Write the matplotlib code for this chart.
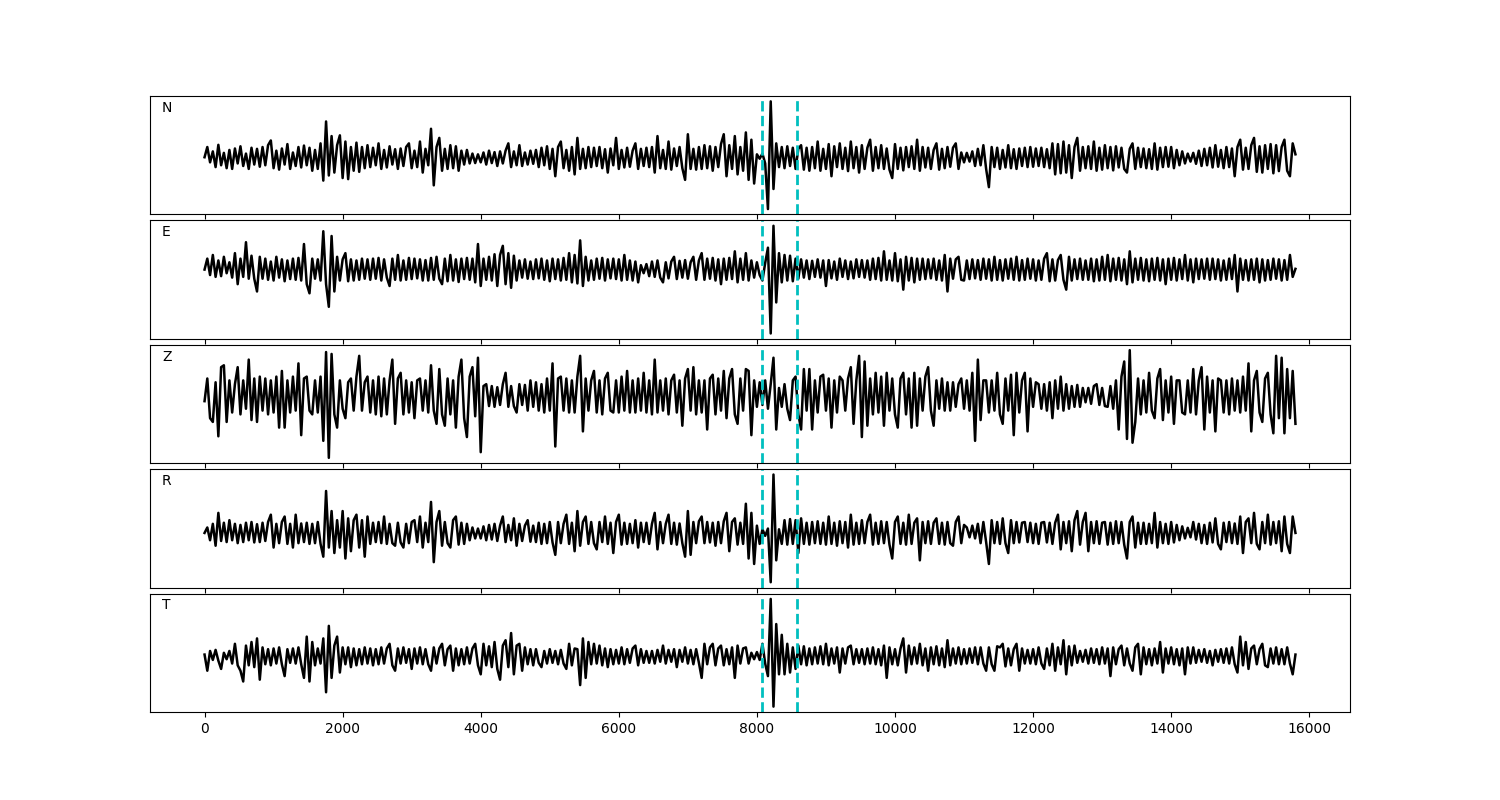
import numpy as np
from matplotlib import pyplot as plt

# Traces, one value every ~40 samples (relative amplitude).
COMPONENTS = ["N", "E", "Z", "R", "T"]
PICKS = [8070, 8575]
TRACE_END = 15800

n_trace = [
    2, 30, -12, 18, -25, 36, -20, 14, -28, 22, -30, 26, -15, 32, -22, 12, -30, 28, -18, 25,
    -24, 30, -20, 35, 48, -28, 20, -32, 26, -18, 38, -30, 15, -22, 30, -26, 34, -20, 28, -35,
    22, -30, 40, -62, 100, -48, 60, -40, 35, 62, -55, 45, -58, 30, -35, 42, -38, 30, -28, 35,
    -25, 28, -20, 40, -30, 22, -26, 32, -18, 24, -30, 26, -22, 30, 40, -28, 20, -25, 45, -40,
    25, -20, 80, -75, 30, 55, -35, 25, -30, 35, -28, 32, -35, 20, -18, 22, -15, 12, -14, 10,
    -12, 15, -18, 20, -14, 16, -22, 18, -15, 20, 40, -25, 18, -20, 35, -22, 15, -18, 20, -16,
    22, -25, 28, -20, 32, -30, 25, -50, 30, 45, -28, 22, -35, 30, -45, 55, -30, 25, -28, 30,
    -25, 28, -22, 30, -28, 24, -40, 26, -20, 55, -30, 22, -26, 28, -24, 20, 40, -30, 25, -22,
    28, -25, 30, -40, 60, -28, 22, -30, 45, -32, 26, -22, 30, -28, -60, 65, -30, 25, -32, 30,
    -30, 35, -28, 32, -35, 30, -25, 38, 65, -50, 35, -30, 60, -45, 30, -35, 70, -60, 50, -70,
    10, -2, 12, -15, -140, 155, -85, 40, -25, 30, -28, 32, -22, 28, -30, 25, 35, -32, 28, -35,
    30, -28, 45, -35, 25, -30, 38, -50, 32, -25, 40, -30, 28, -36, 45, -28, 30, -40, 35, -30,
    28, 50, -35, 30, -28, 35, -30, 26, -32, -55, 38, -30, 28, -34, 30, -25, 32, -30, 50, -35,
    30, -26, 28, -30, 22, 40, -32, 25, -28, 30, -24, 28, 40, -30, 15, -12, 14, -10, 18, -22,
    25, -20, 35, -30, -80, 30, -25, 28, -30, 22, -26, 35, -28, 24, -30, 26, -22, 28, -25, 30,
    -24, 26, -22, 28, -25, 24, -28, 40, -45, 38, -42, 45, -40, 35, -55, 30, 55, -35, 30, -28,
    32, -30, 45, -35, 28, -32, 35, -28, 30, -34, 32, -26, 28, -30, -40, 25, 40, -30, 28, -25,
    26, -28, 24, -30, 40, -32, 28, -25, 30, -24, 30, -28, 22, -20, 18, -15, 12, -10, 14, -16,
    20, -22, 25, -20, 28, -26, 35, -24, 22, -28, 30, -25, 26, -50, 30, 50, -32, 28, -30, 35,
    55, -38, 32, -40, 35, -30, 38, -42, 35, -36, 30, 50, -35, -50, 40, 10,
]

e_trace = [
    0, 30, -15, 40, -20, 25, -18, 35, -10, 20, -22, 45, -40, 30, -20, 75, -25, 38, -25, -60,
    35, -25, 30, -28, 22, -30, 35, -22, 28, -32, 25, -26, 30, -28, 32, -30, 70, -40, -65, 30,
    -25, 28, -30, 105, -40, -102, 92, -60, 35, -30, 28, 45, -32, 28, -30, 25, -28, 30, -25, 28,
    -28, 30, -25, 32, -30, 28, -22, -45, 30, -28, 40, -30, 25, -28, 32, -26, 30, -24, 28, -30,
    26, -30, 32, -28, 35, -25, -40, 30, -32, 40, -30, 28, -34, 30, -26, 32, -28, 30, -35, 70,
    -45, 30, -28, 35, -30, 42, -45, 40, 65, -40, 45, -50, 38, -30, 25, -22, 28, -25, 22, -26,
    28, -24, 30, -28, 25, -32, 30, -26, 28, -30, 32, -28, 45, -35, 40, -38, 80, -45, 35, -30,
    25, -28, 30, -25, 32, -30, 28, -24, 30, -26, 28, -30, 40, -28, 25, -30, 22, -35, 12, -10,
    15, -18, 22, -20, 25, -22, -35, 20, -24, 22, 35, -26, 24, -22, 26, -25, 20, 35, -28, 25,
    45, -28, 30, -25, 32, -30, 28, -40, 30, -28, 32, -26, 50, -35, 30, -28, 45, -30, 25, -22,
    20, -15, -30, 18, 60, -175, 120, -90, 45, -35, 40, -30, 38, -32, 30, -25, 28, -22, 25, -26,
    24, -20, 28, -22, 25, -45, 26, -24, 22, -28, 30, -20, 25, -26, 22, -24, 28, -20, 26, -22,
    25, -28, 30, -26, 32, -30, 50, -28, 25, -30, 45, -32, 28, -55, 35, -30, 32, -35, 30, -28,
    30, -26, 28, -24, 30, -28, 25, -30, 40, -60, 30, -25, 28, 35, -28, -30, 25, -26, 28, -24,
    26, -28, 30, -25, 28, -30, 35, -28, 26, -30, 28, -25, 30, -28, 35, -30, 26, -28, 30, -25,
    28, -30, 25, -28, 30, 45, -32, 28, -30, 26, 40, -28, -55, 35, -30, 28, -26, 30, -28, 25,
    -28, 30, -32, 28, -30, 35, -28, 40, -32, 30, -28, 32, -30, 28, -40, 50, -35, 30, -28, 32,
    -30, 28, -32, 30, -28, 32, -30, 28, -40, 30, -28, 32, -30, 28, -26, 40, -30, 28, -35, 30,
    -26, 28, -25, 30, -28, 30, -26, 28, -30, 25, -28, 30, -26, 40, -60, 30, -28, 26, -30, 28,
    -28, 30, -35, 28, -30, 26, -28, 30, -25, 28, -30, 26, -28, 40, -20, 2,
]

z_trace = [
    -15, 45, -60, -70, 35, -108, 75, 80, -70, 40, -45, 30, 75, -50, 40, -35, 95, -65, 45, -70,
    50, -40, 45, -50, 40, -45, 50, -85, 65, -85, 40, -45, 50, -40, 85, -105, 45, 50, -40, -50,
    40, -45, 50, -120, 115, -165, 110, -50, -85, 40, -35, -60, 35, 45, -40, 50, 105, -40, 35, 50,
    -45, 40, -50, 50, -55, 45, -50, 40, 95, -75, 45, 60, -50, 40, -45, 35, -60, 40, 45, -40,
    40, -45, 80, -40, -75, 70, -50, -80, 45, -50, 40, -85, 50, 95, -60, -110, 50, 75, -55, 100,
    -150, 25, 30, -28, 25, -30, 22, -25, 30, 60, -30, 25, -28, -45, 30, -25, 28, -40, 40, -30,
    35, -40, 30, -45, 45, -40, 85, -135, 45, 50, -40, 45, -45, 40, -45, 50, 105, -95, 45, -40,
    40, 65, -45, 40, -50, 45, 60, -40, -45, 40, -45, 50, -40, 65, -45, 40, -45, 45, -40, 60,
    -45, 40, -50, 95, -45, 40, -40, 45, -50, 40, 55, -45, 40, -80, 45, 70, -40, 75, -50, 40,
    -45, 40, -90, 45, 55, -50, 45, -40, 65, -60, 45, 70, -50, -75, 45, -40, 70, 65, -105, 40,
    -30, 35, -25, 40, -35, 30, 100, -90, 20, -30, 30, -35, -65, 40, 50, -50, -90, 70, -40, 70,
    -90, 40, -45, 50, 55, -40, 45, -85, 40, -45, 50, 40, -40, 45, 75, -75, 40, 105, -110, 90,
    -80, 45, -50, 60, -45, 50, -80, 60, -40, 45, -50, -85, 45, 60, -50, 45, -85, 60, -80, 45,
    -40, 50, 75, -40, -80, 40, -35, 45, -40, 35, -40, 35, -30, 30, 45, -35, 40, -40, 60, -120,
    95, -65, 40, 40, -45, 40, -40, 60, -50, -75, 45, -40, 55, -105, 60, -45, 40, 60, -95, 45,
    -30, 35, 30, -35, 30, -40, 35, -60, 40, -35, 50, -40, 30, -35, 25, -30, 28, -30, 20, -18,
    20, -22, 25, 30, -25, 20, -28, -30, 25, -35, 40, -90, 50, 90, -115, 120, -125, -70, 45, -50,
    40, -45, 60, -40, -60, 45, 70, -65, 40, -45, 50, -75, 40, 40, -45, -50, 40, -45, 70, -50,
    40, 75, -90, 50, -45, 40, -95, 45, 40, -45, 40, -50, 45, -40, 40, -45, 50, -40, 85, -95,
    40, 65, -45, -70, 45, 60, -50, -100, 105, -60, 100, -100, 70, -60, 65, -75,
]

r_trace = [
    0, 15, -20, 25, -35, 55, -22, 28, -25, 35, -20, 25, -28, 22, -25, 28, -20, 30, -26, 24,
    -25, 28, -22, 30, 50, -40, 25, -28, 30, 45, -30, 25, -40, 50, -28, 26, -25, 28, -30, 25,
    -28, 30, -30, -65, 115, -40, 60, -55, 35, -40, 60, -70, 40, -50, 35, 50, -40, 35, -65, 45,
    -30, 28, -25, 30, -28, 45, -30, 25, -28, -35, 28, -26, -40, 25, -28, 30, 35, -25, 45, -40,
    28, -25, 85, -80, 30, 60, -35, 30, -28, -40, 35, 45, -32, 28, -30, 25, -20, 15, -15, 12,
    -15, 18, -20, 22, -18, 25, -22, 20, 45, -25, 22, -20, 40, -35, 25, -22, 20, 35, -24, 20,
    -25, 28, -30, 25, -28, 30, -26, -60, 30, -28, 25, 50, -30, 28, -50, 60, -35, 30, 45, -30,
    30, -28, -45, 30, -25, 45, -30, 28, -55, 30, 50, -32, 28, -30, 25, -28, 35, -40, 28, -25,
    28, -30, 25, 55, -45, 30, -28, 25, 50, -30, 28, -32, 26, -28, -65, 60, -60, 30, -28, 32,
    45, -28, 30, -26, 28, -35, 30, -28, 32, 55, -50, 30, 40, -32, 28, -30, 80, -70, 55, -85,
    20, -30, 10, -8, 12, -135, 160, -75, 10, -30, 35, -32, 38, -30, 35, -55, 40, -30, 28, -32,
    30, -28, 32, -30, 28, -32, 45, -30, 28, -35, 32, -28, 30, -40, 50, -32, 28, -30, 35, -28,
    30, 50, -32, 28, -30, 32, -28, 30, -32, -70, 30, 45, -30, 28, -32, 50, -30, 28, 40, -75,
    30, -28, 32, -30, 28, 40, -30, 28, -32, 30, -28, -35, 30, 45, -28, 22, 15, -12, 20, -15,
    25, -28, 30, -25, -85, 35, -28, 30, -30, 40, -28, -55, 35, -28, 30, -26, 28, 30, -25, 28,
    -28, 25, -30, 28, 30, -26, 28, -30, 28, 50, -45, 30, -28, 32, -50, 35, 60, -32, 30, 55,
    -50, 30, -28, 32, -30, 28, 30, -32, 28, -30, 32, -28, 30, -32, -70, 30, 45, -40, 28, -30,
    28, -30, 25, -28, 55, -40, 30, -28, 25, -30, 30, -26, 22, -20, 18, -15, 14, -12, 30, -18,
    25, -28, 22, -30, 28, -26, 40, -30, -45, 28, -25, 30, -28, 26, -30, 45, -55, 30, 40, -28,
    55, -30, -45, 30, -28, 50, -32, 30, -28, 32, -50, 45, -30, -55, 45, 0,
]

t_trace = [
    5, -40, 15, -10, 18, -12, -35, 10, -8, 15, -20, 35, -25, -40, -70, 30, -25, 40, -30, 50,
    -65, 25, -22, 20, -25, 22, -20, 25, -22, -55, 20, -18, 22, -20, 25, -22, -60, 55, -70, 40,
    -25, 22, -20, 50, -100, 85, -60, 30, 55, -45, 25, -22, 25, -30, 22, -25, 20, -22, 25, -20,
    22, -25, 20, -22, 25, -20, 22, 35, -25, -40, 22, -20, 25, -18, 20, -35, 22, -20, 25, -22,
    20, -22, -40, 25, -20, 22, 35, -25, 20, 30, -40, 22, -25, 20, -22, 25, -20, 22, 35, -25,
    -50, 35, -25, 28, -30, 40, -35, -65, 30, 45, -30, 65, -50, 30, 35, -40, 25, -22, 20, -25,
    20, -18, -30, 15, -20, 20, -18, 15, -22, 18, -20, -35, 35, -25, 22, 20, -80, 50, -60, 40,
    -22, 35, -20, 30, -25, 22, -30, 20, -22, 18, -20, 25, -22, 20, -18, 22, 30, -25, 20, -18,
    15, -18, 15, -20, 18, -15, 30, -20, 18, -15, 20, -30, 18, -15, 25, -20, 18, -22, 20, -18,
    -60, 35, -22, 25, 35, -25, 22, 30, -25, 20, -22, 25, -60, 30, -20, 22, 25, -20, 10, -8,
    12, -10, 35, -20, -55, 160, -140, 90, -50, 60, -50, 35, -45, 25, -35, 30, -22, 28, -25, 22,
    -22, 25, -20, 28, -22, 35, -25, 22, -20, 25, -45, 22, -20, 25, 30, -22, 20, -18, 20, -22,
    22, -20, 25, -22, 20, -25, 30, -60, 25, -22, 20, -25, 22, 50, -45, 30, -22, 25, -20, 35,
    -25, 22, -40, 25, -22, 28, -25, 22, -30, 45, -25, 22, -20, 25, -22, 20, -20, 22, -18, 25,
    -22, 25, -20, -40, 25, -22, -40, 28, 25, 35, -28, 22, -25, 20, 35, -40, 22, -20, 18, -20,
    20, -22, 25, -20, -35, 22, -25, 35, -40, 25, -22, 45, -50, 28, -25, 30, -18, 15, -15, 18,
    -20, 22, -18, 20, -22, 25, -20, 22, -55, 25, -22, 20, 30, -25, 22, -20, -40, 25, 35, -50,
    25, -22, 20, -25, 22, -20, 40, -45, 22, -20, 25, -22, 20, -25, 22, -50, 25, -20, 25, -18,
    18, -15, 20, -18, 15, -25, 18, -15, 20, -18, 22, -20, 25, -22, -45, 55, -25, 40, -35, 22,
    30, -22, 20, 35, -25, -30, 22, -20, 25, -22, 20, -22, 25, -20, -50, 5,
]

traces = [n_trace, e_trace, z_trace, r_trace, t_trace]

fig, axes = plt.subplots(5, 1, figsize=(15, 8), dpi=100, sharex=True)
plt.subplots_adjust(left=0.1, right=0.9, hspace=0.05)

for ax, name, trace in zip(axes, COMPONENTS, traces):
    x = np.linspace(0, TRACE_END, len(trace))
    ax.plot(x, trace, color="k", linewidth=1.8)
    for pick in PICKS:
        ax.axvline(pick, color="c", linestyle="--", linewidth=2)
    ax.set_yticks([])
    ax.text(0.01, 0.9, name, transform=ax.transAxes, va="center")

plt.savefig("out.png")
